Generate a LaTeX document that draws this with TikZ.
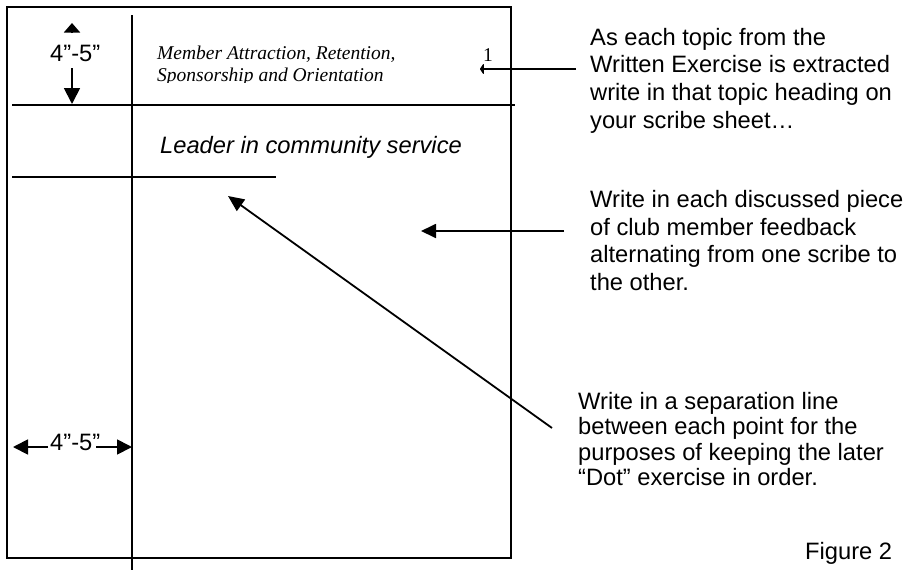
\documentclass[tikz,border=0pt]{standalone}
\usepackage{fontspec}
\setmainfont{Liberation Sans}
\newfontfamily\tnr{Liberation Serif}
\usetikzlibrary{arrows.meta}
\begin{document}
\begin{tikzpicture}[x=1pt,y=-1pt,
  frame/.style={line width=1.8pt},
  lbl/.style={inner sep=0pt,anchor=base west,font=\fontsize{23.7}{28.3}\selectfont},
  ital/.style={inner sep=0pt,anchor=base west,font=\fontsize{23.7}{28.3}\selectfont\itshape},
  serif/.style={inner sep=0pt,anchor=base west,font=\tnr\fontsize{19.5}{22.4}\selectfont},
  serifit/.style={serif,font=\tnr\fontsize{19.5}{22.4}\selectfont\itshape},
  conn/.style={line width=1.8pt,-{Triangle[length=15pt,width=15pt]}},
]
\useasboundingbox (0,0) rectangle (909,570);
% sheet
\draw[frame] (7,7) rectangle (511,558);
\draw[frame] (132,15) -- (132,570);
\draw[frame] (12,105) -- (515,105);
\draw[frame] (12,177) -- (276,177);
% texts on the sheet
\node[lbl] (dimtop) at (50,61.7) {4”-5”};
\node[lbl] (dimleft) at (50,450) {4”-5”};
\node[serifit] (topic1) at (157,59.3) {Member Attraction, Retention,};
\begin{scope}
\clip (140,60) rectangle (470,82.3);
\node[serifit] (topic2) at (157,81.5) {Sponsorship and Orientation};
\end{scope}
\node[serif] (num) at (483,61.7) {1};
\node[ital] (leader) at (160,153.3) {Leader in community service};
% dimension arrows
\coordinate (upS) at (72,33);
\coordinate (upE) at (72,23);
\coordinate (dnS) at (72,68);
\coordinate (dnE) at (72,104);
\coordinate (lfE) at (13,447);
\coordinate (lfS) at (48,447);
\coordinate (rtS) at (96,447);
\coordinate (rtE) at (132,447);
\draw[line width=1.8pt,-{Triangle[length=9.5pt,width=16pt]}] (upS) -- (upE);
\draw[line width=1.8pt,-{Triangle[length=16pt,width=16pt]}] (dnS) -- (dnE);
\draw[conn] (lfS) -- (lfE);
\draw[conn] (rtS) -- (rtE);
% right-hand notes
\node[lbl] (n1a) at (590,45) {As each topic from the};
\node[lbl] (n1b) at (590,72.8) {Written Exercise is extracted};
\node[lbl] (n1c) at (590,100.6) {write in that topic heading on};
\node[lbl] (n1d) at (590,128.4) {your scribe sheet…};
\node[lbl] (n2a) at (590,207.2) {Write in each discussed piece};
\node[lbl] (n2b) at (590,235) {of club member feedback};
\node[lbl] (n2c) at (590,262.8) {alternating from one scribe to};
\node[lbl] (n2d) at (590,290.6) {the other.};
\node[lbl] (n3a) at (578,409) {Write in a separation line};
\node[lbl] (n3b) at (578,434.5) {between each point for the};
\node[lbl] (n3c) at (578,460) {purposes of keeping the later};
\node[lbl] (n3d) at (578,485.5) {“Dot” exercise in order.};
\node[lbl] (fig) at (805,559) {Figure 2};
% pointer arrows
\coordinate (p1s) at (576,69);
\coordinate (p1e) at (480,69);
\coordinate (p2s) at (564,231);
\coordinate (p2e) at (421,231);
\coordinate (p3s) at (552,428);
\coordinate (p3e) at (228,196);
\draw[line width=1.8pt,-{Triangle[length=4pt,width=12pt,round]}] (p1s) -- (p1e);
\draw[line width=1.8pt,-{Triangle[length=15pt,width=14pt]}] (p2s) -- (p2e);
\draw[line width=1.8pt,-{Triangle[length=16pt,width=14pt]}] (p3s) -- (p3e);
\end{tikzpicture}
\end{document}
